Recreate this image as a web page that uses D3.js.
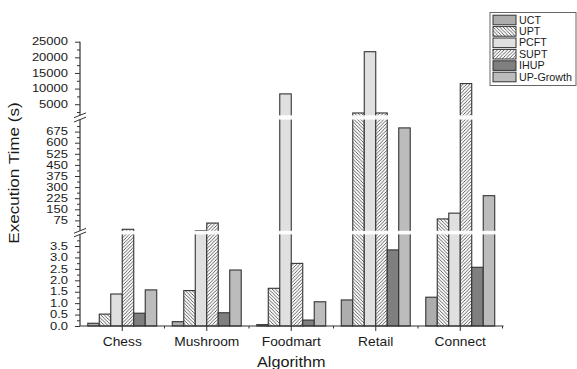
<!DOCTYPE html>
<html>
<head>
<meta charset="utf-8">
<script src="https://cdn.jsdelivr.net/npm/d3@7/dist/d3.min.js"></script>
<style>
  html, body { margin: 0; padding: 0; background: #fff; }
  svg { display: block; font-family: "Liberation Sans", Arial, sans-serif; }
</style>
</head>
<body>
<svg id="chart" width="577" height="369"></svg>
<script>
// Execution time of six algorithms on five datasets
const categories = ["Chess", "Mushroom", "Foodmart", "Retail", "Connect"];
const seriesNames = ["UCT", "UPT", "PCFT", "SUPT", "IHUP", "UP-Growth"];
const uct      = [0.12, 0.19, 0.06, 1.14, 1.26];
const upt      = [0.52, 1.55, 1.65, 2200, 85];
const pcft     = [1.40, 4.5, 8300, 21800, 124];
const supt     = [15, 57, 2.74, 2200, 11600];
const ihup     = [0.56, 0.58, 0.26, 3.33, 2.57];
const upGrowth = [1.58, 2.45, 1.06, 700, 242];
const seriesValues = [uct, upt, pcft, supt, ihup, upGrowth];

// Tick values for the three segments of the broken axis
const lowTicks = [0, 0.5, 1, 1.5, 2, 2.5, 3, 3.5];
const midTicks = [75, 150, 225, 300, 375, 450, 525, 600, 675];
const highTicks = [5000, 10000, 15000, 20000, 25000];

const svg = d3.select("#chart");
const axisX = 80, axisRight = 502.5, baseY = 326;
const WIDE = 1.15;      // horizontal stretch of category lettering
const TICK_WIDE = 1.3;  // horizontal stretch of the value labels

// Three stacked linear scales joined by axis breaks
const yLow  = d3.scaleLinear().domain([0, 4]).range([baseY, 234.6]);
const yMid  = d3.scaleLinear().domain([0, 750]).range([231.5, 120.5]);
const yHigh = d3.scaleLinear().domain([750, 25000]).range([117.5, 41.7]);
const y = v => v <= 4 ? yLow(v) : (v <= 750 ? yMid(v) : yHigh(v));

const x0 = d3.scaleBand().domain(categories).range([axisX, axisRight]).padding(0);
const bw = x0.bandwidth();
const x1 = d3.scaleBand().domain(seriesNames).range([bw * 0.092, bw * 0.908]).padding(0);

// Widen text horizontally while keeping its anchor point
function widen(sel, k) {
  sel.each(function () {
    const t = d3.select(this);
    const xv = +(t.attr("x") || 0);
    t.attr("x", xv / k).attr("transform", `scale(${k},1)`);
  });
}

// Fills and hatch patterns
const defs = svg.append("defs");
function hatch(id, d) {
  const p = defs.append("pattern").attr("id", id)
    .attr("patternUnits", "userSpaceOnUse").attr("width", 3.4).attr("height", 3.4);
  p.append("rect").attr("width", 3.4).attr("height", 3.4).attr("fill", "#fafafa");
  p.append("path").attr("d", d).attr("stroke", "#4a4a4a").attr("stroke-width", 0.85).attr("fill", "none");
}
hatch("hatchBack", "M0,0 L3.4,3.4 M-1,2.4 L1,4.4 M2.4,-1 L4.4,1");
hatch("hatchFwd", "M0,3.4 L3.4,0 M-1,1 L1,-1 M2.4,4.4 L4.4,2.4");

const fills = {
  "UCT": "#adadad",
  "UPT": "url(#hatchBack)",
  "PCFT": "#e0e0e0",
  "SUPT": "url(#hatchFwd)",
  "IHUP": "#7f7f7f",
  "UP-Growth": "#bcbcbc"
};

// Bars
const rows = [];
categories.forEach((c, ci) => {
  seriesNames.forEach((s, si) => rows.push({ cat: c, series: s, value: seriesValues[si][ci] }));
});
svg.append("g").selectAll("rect").data(rows).join("rect")
  .attr("x", d => x0(d.cat) + x1(d.series))
  .attr("width", x1.bandwidth())
  .attr("y", d => y(d.value))
  .attr("height", d => baseY - y(d.value))
  .attr("fill", d => fills[d.series])
  .attr("stroke", "#333")
  .attr("stroke-width", 1.1);

// White bands where the axis is broken
const gaps = [[115.3, 119.6], [230.8, 234.4]];
svg.append("g").selectAll("rect").data(gaps).join("rect")
  .attr("x", axisX + 1).attr("width", axisRight - axisX + 2)
  .attr("y", d => d[0]).attr("height", d => d[1] - d[0])
  .attr("fill", "#fff").attr("opacity", 0.95);

// Y axis segments
function segment(scale, major, minor, fmt, ext) {
  const gMinor = svg.append("g").attr("transform", `translate(${axisX},0)`)
    .call(d3.axisLeft(scale).tickValues(minor).tickSize(3).tickFormat(""));
  gMinor.select(".domain").remove();
  const g = svg.append("g").attr("transform", `translate(${axisX},0)`)
    .call(d3.axisLeft(scale).tickValues(major).tickSize(5).tickPadding(7).tickFormat(fmt));
  g.select(".domain").remove();
  g.selectAll("text").attr("font-size", 10).attr("fill", "#1a1a1a")
    .attr("font-family", "Liberation Sans, Arial, sans-serif");
  widen(g.selectAll("text"), TICK_WIDE);
  svg.selectAll(".tick line").attr("stroke", "#333");
  svg.append("line").attr("x1", axisX).attr("x2", axisX)
    .attr("y1", ext[0]).attr("y2", ext[1]).attr("stroke", "#333").attr("stroke-width", 1.2);
}
segment(yLow, lowTicks, d3.range(0.25, 4, 0.5), d3.format(".1f"), [baseY, 234.4]);
segment(yMid, midTicks, d3.range(37.5, 750, 75), d3.format("d"), [230.8, 119.6]);
segment(yHigh, highTicks, [2500, 7500, 12500, 17500, 22500], d3.format("d"), [115.3, 41.7]);

// Break marks on the axis
gaps.forEach(([a, b]) => {
  const g = svg.append("g");
  g.append("polygon")
    .attr("points", `${axisX - 6},${b + 1.5} ${axisX + 6},${b - 3.5} ${axisX + 6},${a - 2} ${axisX - 6},${a + 3}`)
    .attr("fill", "#fff");
  [a, b].forEach(v => {
    g.append("line").attr("x1", axisX - 6).attr("y1", v + 2.4).attr("x2", axisX + 6).attr("y2", v - 2.4)
      .attr("stroke", "#333").attr("stroke-width", 1);
  });
});

// X axis
svg.append("line").attr("x1", axisX).attr("x2", axisRight + 1)
  .attr("y1", baseY).attr("y2", baseY).attr("stroke", "#333").attr("stroke-width", 1.2);
const gx = svg.append("g").attr("transform", `translate(0,${baseY})`)
  .call(d3.axisBottom(x0).tickSize(5).tickPadding(6));
gx.select(".domain").remove();
gx.selectAll("line").attr("stroke", "#333");
gx.selectAll("text").attr("font-size", 12).attr("fill", "#1a1a1a")
  .attr("font-family", "Liberation Sans, Arial, sans-serif");
widen(gx.selectAll("text"), WIDE);
svg.append("g").selectAll("line").data(categories.slice(1).concat(["end"])).join("line")
  .attr("x1", d => d === "end" ? axisRight : x0(d)).attr("x2", d => d === "end" ? axisRight : x0(d))
  .attr("y1", baseY).attr("y2", baseY + 2.5).attr("stroke", "#333");

// Axis titles
svg.append("text").attr("transform", `translate(${(axisX + axisRight) / 2},367) scale(1.12,1)`)
  .attr("text-anchor", "middle").attr("font-size", 14.5).attr("fill", "#1a1a1a").text("Algorithm");
svg.append("text").attr("transform", "translate(19,173) rotate(-90) scale(1.18,1)")
  .attr("text-anchor", "middle").attr("font-size", 14.5).attr("fill", "#1a1a1a").text("Execution Time (s)");

// Legend
const LEG_WIDE = 1.07;
const lg = svg.append("g");
lg.append("rect").attr("x", 490).attr("y", 12.5).attr("width", 86).attr("height", 73)
  .attr("fill", "#fff").attr("stroke", "#666");
seriesNames.forEach((s, i) => {
  const cy = 20 + i * 11.4;
  lg.append("rect").attr("x", 493).attr("y", cy - 4.8).attr("width", 23).attr("height", 9.6)
    .attr("fill", fills[s]).attr("stroke", "#333").attr("stroke-width", 1);
  lg.append("text").attr("x", 519 / LEG_WIDE).attr("y", cy + 3.6).attr("font-size", 10)
    .attr("transform", `scale(${LEG_WIDE},1)`).attr("fill", "#1a1a1a").text(s);
});
</script>
</body>
</html>
